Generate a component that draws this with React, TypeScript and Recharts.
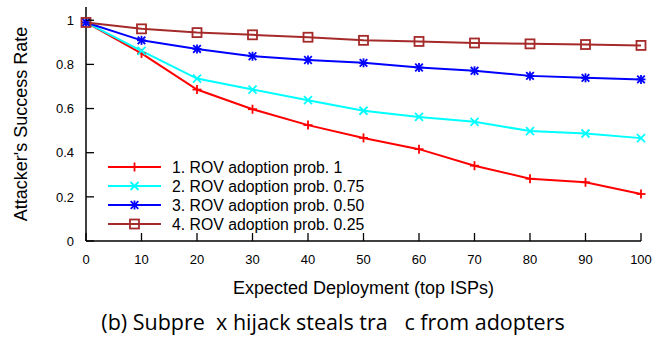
import React from "react";
import { LineChart, Line, XAxis, YAxis, Legend } from "recharts";

const deployment = [0, 10, 20, 30, 40, 50, 60, 70, 80, 90, 100];
const prob100 = [0.99, 0.85, 0.686, 0.597, 0.525, 0.467, 0.416, 0.341, 0.282, 0.266, 0.213];
const prob075 = [0.99, 0.861, 0.736, 0.686, 0.638, 0.59, 0.562, 0.54, 0.498, 0.487, 0.466];
const prob050 = [0.99, 0.909, 0.87, 0.837, 0.82, 0.807, 0.786, 0.771, 0.748, 0.739, 0.732];
const prob025 = [0.99, 0.961, 0.944, 0.934, 0.923, 0.909, 0.904, 0.897, 0.893, 0.89, 0.886];

const xTicks = [0, 10, 20, 30, 40, 50, 60, 70, 80, 90, 100];
const yTicks = [0, 0.2, 0.4, 0.6, 0.8, 1];

const data = deployment.map((d, i) => ({
  deployment: d,
  p100: prob100[i],
  p075: prob075[i],
  p050: prob050[i],
  p025: prob025[i],
}));

const FONT = "'Liberation Sans', Arial, Helvetica, sans-serif";

// gnuplot-ish point types
const Marker = ({ kind, cx, cy, color }: { kind: string; cx: number; cy: number; color: string }) => {
  const s = 4.5;
  const w = 1.8;
  if (kind === "plus") {
    return (
      <g stroke={color} strokeWidth={w}>
        <line x1={cx - s} y1={cy} x2={cx + s} y2={cy} />
        <line x1={cx} y1={cy - s} x2={cx} y2={cy + s} />
      </g>
    );
  }
  if (kind === "cross") {
    return (
      <g stroke={color} strokeWidth={w}>
        <line x1={cx - 4} y1={cy - 4} x2={cx + 4} y2={cy + 4} />
        <line x1={cx - 4} y1={cy + 4} x2={cx + 4} y2={cy - 4} />
      </g>
    );
  }
  if (kind === "star") {
    return (
      <g stroke={color} strokeWidth={w}>
        <line x1={cx - s} y1={cy} x2={cx + s} y2={cy} />
        <line x1={cx} y1={cy - s} x2={cx} y2={cy + s} />
        <line x1={cx - 3.8} y1={cy - 3.8} x2={cx + 3.8} y2={cy + 3.8} />
        <line x1={cx - 3.8} y1={cy + 3.8} x2={cx + 3.8} y2={cy - 3.8} />
      </g>
    );
  }
  return <rect x={cx - 4.5} y={cy - 4.5} width={9} height={9} fill="none" stroke={color} strokeWidth={w} />;
};

const series = [
  { key: "p100", name: "1. ROV adoption prob. 1", color: "#ff0000", kind: "plus" },
  { key: "p075", name: "2. ROV adoption prob. 0.75", color: "#00ffff", kind: "cross" },
  { key: "p050", name: "3. ROV adoption prob. 0.50", color: "#0000ff", kind: "star" },
  { key: "p025", name: "4. ROV adoption prob. 0.25", color: "#a52a2a", kind: "square" },
];

const BottomTick = (props: any) => {
  const { x, y, payload } = props;
  return (
    <g>
      <line x1={x} y1={y} x2={x} y2={y - 8} stroke="#000" strokeWidth={1.3} />
      <text x={x} y={y + 23} textAnchor="middle" fontSize={13} fontFamily={FONT} fill="#000">
        {payload.value}
      </text>
    </g>
  );
};

const TopTick = (props: any) => {
  const { x, y } = props;
  return <line x1={x} y1={y} x2={x} y2={y + 8} stroke="#000" strokeWidth={1.3} />;
};

const LeftTick = (props: any) => {
  const { x, y, payload } = props;
  return (
    <g>
      <line x1={x} y1={y} x2={x + 8} y2={y} stroke="#000" strokeWidth={1.3} />
      <text x={x - 12} y={y + 4.7} textAnchor="end" fontSize={13} fontFamily={FONT} fill="#000">
        {payload.value}
      </text>
    </g>
  );
};

const RightTick = (props: any) => {
  const { x, y } = props;
  return <line x1={x} y1={y} x2={x - 8} y2={y} stroke="#000" strokeWidth={1.3} />;
};

const LegendBox = () => (
  <svg width={270} height={80} style={{ display: "block" }}>
    {series.map((s, i) => {
      const y = 10 + i * 19;
      return (
        <g key={s.key}>
          <line x1={8} y1={y} x2={61} y2={y} stroke={s.color} strokeWidth={2} />
          <Marker kind={s.kind} cx={34.5} cy={y} color={s.color} />
          <text x={72} y={y + 5.5} fontSize={15.8} fontFamily={FONT} fill="#000">
            {s.name}
          </text>
        </g>
      );
    })}
  </svg>
);

export default function App() {
  return (
    <div style={{ position: "absolute", left: 0, top: 0, width: 666, height: 343, background: "#fff" }}>
      <LineChart width={666} height={300} data={data} margin={{ top: 7, right: 25, bottom: 0, left: 0 }}>
        <XAxis
          dataKey="deployment"
          type="number"
          domain={[0, 100]}
          ticks={xTicks}
          interval={0}
          height={59}
          tickSize={0}
          tickMargin={0}
          tick={<BottomTick />}
          axisLine={{ stroke: "#000", strokeWidth: 1.5 }}
          label={{
            content: (p: any) => {
              const vb = p.viewBox || { x: 86, y: 241, width: 555, height: 59 };
              return (
                <text
                  x={vb.x + vb.width / 2}
                  y={vb.y + 53}
                  textAnchor="middle"
                  fontSize={18}
                  fontFamily={FONT}
                  fill="#000"
                >
                  Expected Deployment (top ISPs)
                </text>
              );
            },
          }}
        />
        <XAxis
          xAxisId="top"
          orientation="top"
          dataKey="deployment"
          type="number"
          domain={[0, 100]}
          ticks={xTicks}
          interval={0}
          height={0}
          tickSize={0}
          tickMargin={0}
          tick={<TopTick />}
          axisLine={{ stroke: "#000", strokeWidth: 1.5 }}
        />
        <YAxis
          type="number"
          domain={[0, 1.06]}
          ticks={yTicks}
          interval={0}
          width={86}
          tickSize={0}
          tickMargin={0}
          tick={<LeftTick />}
          axisLine={{ stroke: "#000", strokeWidth: 1.5 }}
          label={{
            content: (p: any) => {
              const vb = p.viewBox || { x: 0, y: 7, width: 86, height: 234 };
              const cx = 27;
              const cy = vb.y + vb.height / 2;
              return (
                <text
                  x={cx}
                  y={cy}
                  transform={`rotate(-90, ${cx}, ${cy})`}
                  textAnchor="middle"
                  fontSize={18}
                  fontFamily={FONT}
                  fill="#000"
                >
                  Attacker's Success Rate
                </text>
              );
            },
          }}
        />
        <YAxis
          yAxisId="right"
          orientation="right"
          type="number"
          domain={[0, 1.06]}
          ticks={yTicks}
          interval={0}
          width={0}
          tickSize={0}
          tickMargin={0}
          tick={<RightTick />}
          axisLine={{ stroke: "#000", strokeWidth: 1.5 }}
        />
        <Legend
          layout="vertical"
          align="center"
          verticalAlign="middle"
          wrapperStyle={{ left: 100, top: 157, width: 270, height: 80 }}
          content={() => <LegendBox />}
        />
        {series.map((s) => (
          <Line
            key={s.key}
            dataKey={s.key}
            name={s.name}
            stroke={s.color}
            strokeWidth={2}
            isAnimationActive={false}
            dot={(p: any) => <Marker key={`${s.key}-${p.index}`} kind={s.kind} cx={p.cx} cy={p.cy} color={s.color} />}
            activeDot={false}
          />
        ))}
      </LineChart>
      <div
        style={{
          position: "absolute",
          left: 0,
          top: 307,
          width: 666,
          textAlign: "center",
          fontFamily: "'Open Sans', sans-serif",
          fontSize: 21.5,
          lineHeight: "30px",
          whiteSpace: "pre",
          color: "#000",
        }}
      >
        {"(b) Subpre  x hijack steals tra   c from adopters"}
      </div>
    </div>
  );
}
